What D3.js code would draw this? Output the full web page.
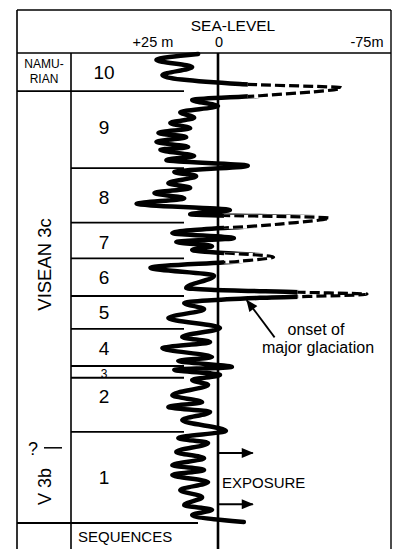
<!DOCTYPE html>
<html>
<head>
<meta charset="utf-8">
<script src="https://cdn.jsdelivr.net/npm/d3@7/dist/d3.min.js"></script>
<style>
  body { margin: 0; background: #fff; }
  text { font-family: "Liberation Sans", Arial, Helvetica, sans-serif; fill: #000; }
</style>
</head>
<body>
<svg id="chart" width="397" height="549"></svg>
<script>
// position down the column: 0 = top of sequence 10, 100 = base of sequence 1
// level in metres, + is above present (left), - is below (right)
const curvePos = [0.2, 1.5, 3.0, 4.7, 6.6, 7.4, 9.1, 10.0, 11.3, 12.6, 13.8, 14.9, 16.0, 17.0, 17.9, 18.9, 20.0, 20.6,
  21.9, 22.8, 24.0, 25.3, 26.2, 27.7, 28.7, 29.8, 30.9, 32.1, 33.4, 34.3, 35.1, 36.4, 38.3, 39.4, 40.2, 41.1, 41.9,
  43.4, 44.3, 45.7, 47.4, 50.0, 50.9, 51.3, 52.1, 53.2, 54.5, 56.4, 58.5, 60.4, 61.5, 62.8, 64.7, 65.5, 66.8, 67.4, 68.5, 69.6,
  70.6, 72.8, 74.3, 75.3, 76.4, 78.1, 80.4, 81.9, 83.0, 84.9, 86.2, 87.7, 88.7, 89.8, 91.3, 93.0, 94.5, 96.2,
  97.2, 98.3, 99.8];
const curveLevel = [10, 31, 13, 28, -11, -62, -21, 13, 0, 19, 12, 24, 14, 30, 16, 31, 15, 29,
  12, 26, -15, 22, 11, 25, 14, 32, 17, 41, -6, 14, -56, -31, 23, -8, 21, 3, 13,
  -28, -11, 34, 2, 16, -41, -75, -21, 17, 7, 25, -1, 18, 4, 28, 3, 20, -7, 22, -1, 13,
  5, 23, 8, 25, 4, 18, -4, 20, 5, 21, 7, 23, 7, 23, 5, 19, 8, 17,
  3, 13, -13];

const seqNames = ["10", "9", "8", "7", "6", "5", "4", "3", "2", "1"];
const seqBounds = [0, 8.1, 24.5, 36.1, 43.7, 51.7, 58.7, 66.6, 69.1, 80.6, 100];
const seqLabelPos = [4.0, 15.7, 30.6, 40.2, 47.7, 55.1, 62.8, 68.3, 73.0, 90.2];

const levelTicks = [25, 0, -75];
const levelTickLabels = ["+25 m", "0", "-75m"];

// excursions drawn dashed: [from pos, to pos, level beyond which dashed]
const dashZones = [[5.5, 9.6, -15], [34.4, 37.4, -3], [42.5, 44.8, -3], [50.4, 52.6, -40]];

const namurianBase = 8.1;
const v3bTop = 84.0;
const exposurePos = [85.1, 96.0];

const W = 397, H = 549;
const frameL = 17, stageR = 71, frameR = 391, frameT = 10, headB = 53;

const svg = d3.select('#chart');

const y = d3.scaleLinear().domain([0, 100]).range([headB, 523]);
const x = d3.scaleLinear().domain([0, -75]).range([218, 367]);

const pts = curvePos.map((p, i) => ({ pos: p, level: curveLevel[i] }));

const defs = svg.append('defs');

// mask hides the solid curve inside dashed zones, clip shows the dashed one there
const mask = defs.append('mask').attr('id', 'solidMask');
mask.append('rect').attr('width', W).attr('height', H).attr('fill', '#fff');
const clip = defs.append('clipPath').attr('id', 'dashClip');
dashZones.forEach(z => {
  mask.append('rect')
    .attr('x', x(z[2])).attr('y', y(z[0]))
    .attr('width', W - x(z[2])).attr('height', y(z[1]) - y(z[0]))
    .attr('fill', '#000');
  clip.append('rect')
    .attr('x', x(z[2])).attr('y', y(z[0]))
    .attr('width', W - x(z[2])).attr('height', y(z[1]) - y(z[0]));
});

defs.append('marker')
  .attr('id', 'arrowhead')
  .attr('viewBox', '0 0 12 10')
  .attr('refX', 11)
  .attr('refY', 5)
  .attr('markerUnits', 'userSpaceOnUse')
  .attr('markerWidth', 13)
  .attr('markerHeight', 10)
  .attr('orient', 'auto')
  .append('path')
  .attr('d', 'M0,0 L12,5 L0,10 Z')
  .attr('fill', '#000');

// frame
const frame = svg.append('g').attr('stroke', '#000').attr('fill', 'none');
frame.append('line').attr('x1', frameL).attr('x2', frameR).attr('y1', frameT).attr('y2', frameT).attr('stroke-width', 1.6);
frame.append('line').attr('x1', frameL).attr('x2', frameR).attr('y1', headB).attr('y2', headB).attr('stroke-width', 1.6);
frame.append('line').attr('x1', frameL).attr('x2', frameL).attr('y1', frameT).attr('y2', H).attr('stroke-width', 1.6);
frame.append('line').attr('x1', frameR).attr('x2', frameR).attr('y1', frameT).attr('y2', H).attr('stroke-width', 1.4);
frame.append('line').attr('x1', stageR).attr('x2', stageR).attr('y1', headB).attr('y2', H).attr('stroke-width', 1.6);

// sequence boundaries
svg.append('g').selectAll('line')
  .data(seqBounds.slice(1))
  .enter().append('line')
  .attr('x1', d => (d === namurianBase || d === 100) ? frameL : stageR)
  .attr('x2', d => d === 100 ? 198 : 184)
  .attr('y1', d => y(d)).attr('y2', d => y(d))
  .attr('stroke', '#000')
  .attr('stroke-width', 1.8);

// zero line
svg.append('line')
  .attr('x1', x(0)).attr('x2', x(0))
  .attr('y1', headB).attr('y2', H)
  .attr('stroke', '#000').attr('stroke-width', 2.6);

// header
svg.append('text').attr('x', 233).attr('y', 31)
  .attr('text-anchor', 'middle').attr('font-size', 15.5).text('SEA-LEVEL');
const tickAnchor = ['end', 'middle', 'middle'];
const tickDx = [5, 1, 0];
svg.append('g').selectAll('text')
  .data(levelTicks)
  .enter().append('text')
  .attr('x', (d, i) => x(d) + tickDx[i])
  .attr('y', 47)
  .attr('text-anchor', (d, i) => tickAnchor[i])
  .attr('font-size', 14.5)
  .text((d, i) => levelTickLabels[i]);

// sea-level curve
const line = d3.line()
  .x(d => x(d.level))
  .y(d => y(d.pos))
  .curve(d3.curveMonotoneY);

svg.append('path')
  .datum(pts)
  .attr('d', line)
  .attr('fill', 'none')
  .attr('stroke', '#000')
  .attr('stroke-width', 4.5)
  .attr('stroke-linejoin', 'round')
  .attr('stroke-linecap', 'round')
  .attr('mask', 'url(#solidMask)');

svg.append('path')
  .datum(pts)
  .attr('d', line)
  .attr('fill', 'none')
  .attr('stroke', '#000')
  .attr('stroke-width', 3.2)
  .attr('stroke-dasharray', '10 4')
  .attr('clip-path', 'url(#dashClip)');

// sequence numbers
svg.append('g').selectAll('text')
  .data(seqNames)
  .enter().append('text')
  .attr('x', 104)
  .attr('y', (d, i) => y(seqLabelPos[i]))
  .attr('dy', '0.36em')
  .attr('text-anchor', 'middle')
  .attr('font-size', d => d === '3' ? 12 : 19)
  .text(d => d);

// stage column
const namY = (y(0) + y(namurianBase)) / 2;
svg.append('text').attr('x', 44).attr('y', namY - 4)
  .attr('text-anchor', 'middle').attr('font-size', 12).text('NAMU-');
svg.append('text').attr('x', 44).attr('y', namY + 11)
  .attr('text-anchor', 'middle').attr('font-size', 12).text('RIAN');

const visY = (y(namurianBase) + y(v3bTop)) / 2 - 5;
svg.append('text')
  .attr('transform', `translate(51,${visY}) rotate(-90)`)
  .attr('text-anchor', 'middle').attr('font-size', 18.5).text('VISEAN 3c');

svg.append('text').attr('x', 33).attr('y', y(v3bTop) + 7)
  .attr('text-anchor', 'middle').attr('font-size', 18).text('?');
svg.append('line')
  .attr('x1', 44).attr('x2', 62)
  .attr('y1', y(v3bTop)).attr('y2', y(v3bTop))
  .attr('stroke', '#000').attr('stroke-width', 1.5);

const v3bY = (y(v3bTop) + y(100)) / 2 + 1;
svg.append('text')
  .attr('transform', `translate(51,${v3bY}) rotate(-90)`)
  .attr('text-anchor', 'middle').attr('font-size', 18).text('V 3b');

svg.append('text').attr('x', 78).attr('y', 542)
  .attr('font-size', 15).text('SEQUENCES');

// onset of major glaciation
svg.append('line')
  .attr('x1', x(-28.5)).attr('y1', y(60.5))
  .attr('x2', x(-14.5)).attr('y2', y(52.6))
  .attr('stroke', '#000').attr('stroke-width', 1.8)
  .attr('marker-end', 'url(#arrowhead)');
svg.append('text').attr('x', 316).attr('y', 335)
  .attr('text-anchor', 'middle').attr('font-size', 16).text('onset of');
svg.append('text').attr('x', 318).attr('y', 353)
  .attr('text-anchor', 'middle').attr('font-size', 16).text('major glaciation');

// exposure arrows
svg.append('g').selectAll('line')
  .data(exposurePos)
  .enter().append('line')
  .attr('x1', x(0) + 1).attr('x2', x(-17.5))
  .attr('y1', d => y(d)).attr('y2', d => y(d))
  .attr('stroke', '#000').attr('stroke-width', 2)
  .attr('marker-end', 'url(#arrowhead)');
svg.append('text').attr('x', 222).attr('y', 488)
  .attr('font-size', 15).text('EXPOSURE');
</script>
</body>
</html>
